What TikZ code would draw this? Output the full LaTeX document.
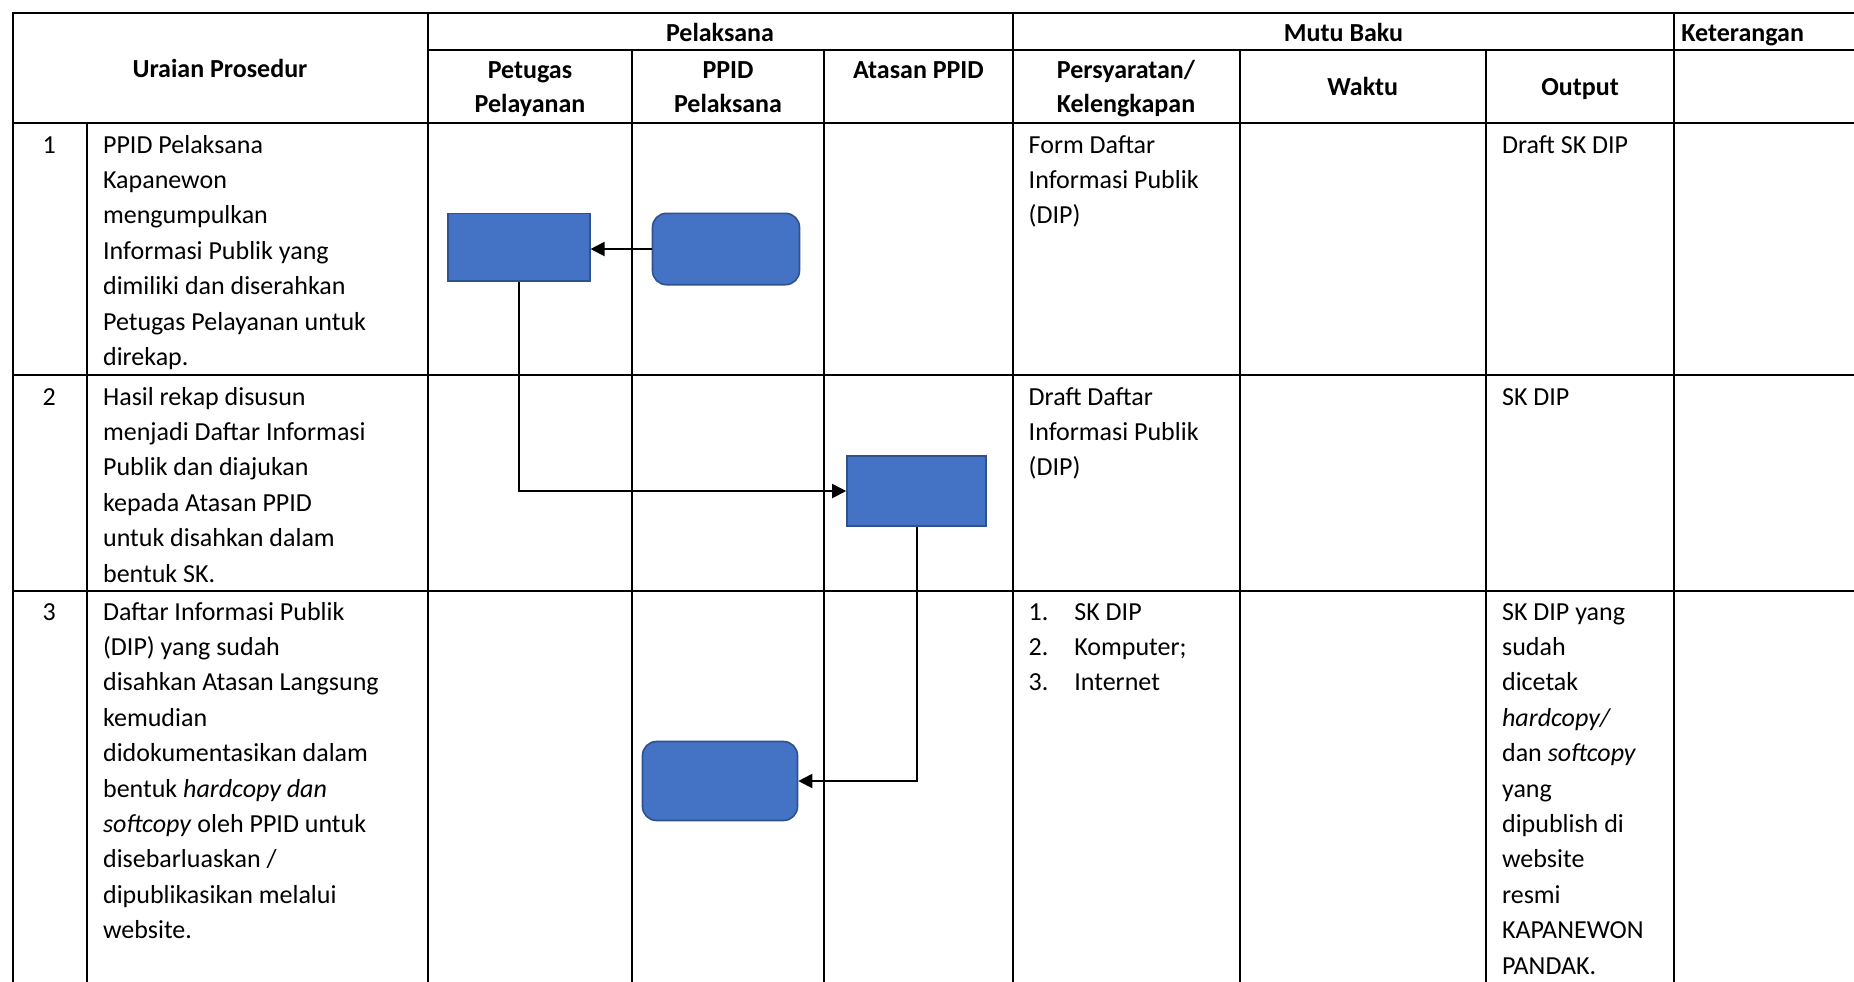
\documentclass[tikz,border=0pt]{standalone}
\usepackage{fontspec}
\setmainfont{Carlito}
\usetikzlibrary{arrows.meta}
\definecolor{isi}{HTML}{4472C4}
\definecolor{garis}{HTML}{2F528F}
\newcommand{\teksbiasa}{\fontsize{13pt}{17.7pt}\selectfont}
\newcommand{\teksjudul}{\fontsize{13pt}{16.85pt}\selectfont\bfseries}
\begin{document}
\begin{tikzpicture}[x=0.5pt, y=-0.5pt,
    grid/.style={line width=1pt, line cap=rect},
    sqbox/.style={rectangle, draw=garis, fill=isi, line width=0.8pt, inner sep=0pt},
    rdbox/.style={sqbox, rounded corners=7pt},
    panah/.style={-{Triangle[length=7pt,width=7pt]}, line width=1pt},
    txt/.style={anchor=base west, inner sep=0pt, align=left, font=\teksbiasa},
    num/.style={anchor=base, inner sep=0pt, font=\teksbiasa},
    head/.style={anchor=base, inner sep=0pt, align=center, font=\teksjudul}]
  \useasboundingbox (0,0) rectangle (1854,981);
  \foreach \x/\ya in {12.7/12.7, 87/123, 427.5/12.7, 632/50, 824/50,
                      1013/12.7, 1239.5/50, 1486/50, 1674/12.7}{
    \draw[grid] (\x,\ya) -- (\x,981);
  }
  \foreach \y/\xa in {12.7/12.7, 50/427.5, 123/12.7, 375/12.7, 591/12.7}{
    \draw[grid] (\xa,\y) -- (1854,\y);
  }

  \node[head] (hUraian) at (220,77) {Uraian Prosedur};
  \node[head] (hPelaksana) at (720,41) {Pelaksana};
  \node[head] (hMutu) at (1343.5,41) {Mutu Baku};
  \node[head, anchor=base west] (hKet) at (1681,41) {Keterangan};
  \node[head] (hPetugas) at (530,112.3) {Petugas\\Pelayanan};
  \node[head] (hPPID) at (728,112.3) {PPID\\Pelaksana};
  \node[head] (hAtasan) at (918.5,78.6) {Atasan PPID};
  \node[head] (hSyarat) at (1126,112.3) {Persyaratan/\\Kelengkapan};
  \node[head] (hWaktu) at (1362.7,95) {Waktu};
  \node[head] (hOutput) at (1580,95) {Output};

  \node[num] (n1) at (49.3,153) {1};
  \node[num] (n2) at (49.3,405) {2};
  \node[num] (n3) at (49.3,620) {3};
  \node[txt] (u1) at (102.7,{153+6*35.4}) {PPID Pelaksana\\Kapanewon\\mengumpulkan\\
    Informasi Publik yang\\dimiliki dan diserahkan\\Petugas Pelayanan untuk\\direkap.};
  \node[txt] (u2) at (102.7,{405+5*35.4}) {Hasil rekap disusun\\menjadi Daftar Informasi\\
    Publik dan diajukan\\kepada Atasan PPID\\untuk disahkan dalam\\bentuk SK.};
  \node[txt] (u3) at (102.7,{620+9*35.4}) {Daftar Informasi Publik\\(DIP) yang sudah\\
    disahkan Atasan Langsung\\kemudian\\didokumentasikan dalam\\
    bentuk \textit{hardcopy dan}\\\textit{softcopy} oleh PPID untuk\\
    disebarluaskan /\\dipublikasikan melalui\\website.};

  \node[txt] (s1) at (1028.3,{153+2*35.4}) {Form Daftar\\Informasi Publik\\(DIP)};
  \node[txt] (s2) at (1028.3,{405+2*35.4}) {Draft Daftar\\Informasi Publik\\(DIP)};
  \foreach \t [count=\i] in {SK DIP, Komputer;, Internet}{
    \node[txt] (s3n\i) at (1028.3,{620+35.4*(\i-1)}) {\i.};
    \node[txt] (s3t\i) at (1074,{620+35.4*(\i-1)}) {\t};
  }

  \node[txt] (o1) at (1501.7,153) {Draft SK DIP};
  \node[txt] (o2) at (1501.7,405) {SK DIP};
  \node[txt] (o3) at (1501.7,{620+10*35.4}) {SK DIP yang\\sudah\\dicetak\\\textit{hardcopy/}\\
    dan \textit{softcopy}\\yang\\dipublish di\\website\\resmi\\KAPANEWON\\PANDAK.};

  \node[sqbox, minimum width=70.75pt, minimum height=33.7pt] (petugas) at (519,247) {};
  \node[rdbox, minimum width=73.5pt, minimum height=35.7pt] (ppidA) at (726,249) {};
  \node[sqbox, minimum width=69.5pt, minimum height=35.15pt] (atasan) at (916.5,491) {};
  \node[rdbox, minimum width=77.5pt, minimum height=39.5pt] (ppidB) at (720,781) {};

  \draw[panah] (ppidA.west) -- (ppidA.west -| petugas.east);
  \draw[panah] (petugas.south) |- (atasan.west);
  \draw[panah] (atasan.south) |- (ppidB.east);
\end{tikzpicture}
\end{document}
